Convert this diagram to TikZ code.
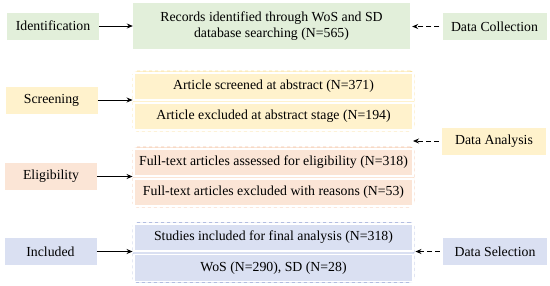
\documentclass[tikz,border=0pt]{standalone}
\usepackage{fontspec}
\setmainfont{Liberation Serif}
\usetikzlibrary{arrows.meta,positioning}
\definecolor{idgreen}{HTML}{E2EFDA}
\definecolor{scryellow}{HTML}{FFF2CC}
\definecolor{scrline}{HTML}{F9DF9C}
\definecolor{elorange}{HTML}{FBE5D6}
\definecolor{elline}{HTML}{F2C3A6}
\definecolor{inblue}{HTML}{DAE0F2}
\definecolor{inline}{HTML}{B2BDE0}

\begin{document}
\begin{tikzpicture}[x=1pt,y=-1pt,
  every node/.style={font=\fontsize{13.8}{16}\selectfont,align=center,inner sep=0pt},
  stage/.style={minimum width=92,minimum height=27},
  inbox/.style={minimum width=279,minimum height=27,draw=white,line width=1.5pt},
  group/.style={minimum width=281,minimum height=60,rounded corners=4pt,dashed,line width=.9pt},
  tag/.style={minimum width=104,minimum height=27},
  flow/.style={-{Stealth[length=6pt,width=5pt]},thick},
  back/.style={-{Stealth[length=6pt,width=5pt]},thick,dash pattern=on 5pt off 3pt}]
\useasboundingbox (0,0) rectangle (550,285);
% identification
\node[stage,fill=idgreen] (ident) at (53,26) {Identification};
\node[fill=idgreen,minimum width=277,minimum height=46] (records) at (271.5,26)
  {Records identified through WoS and SD\\database searching (N=565)};
\node[tag,fill=idgreen] (collect) at (494.5,26.5) {Data Collection};
% screening
\node[stage,fill=scryellow] (screen) at (51.5,100) {Screening};
\node[group,fill=scryellow,draw=scrline] (scrgroup) at (273.5,101) {};
\node[inbox,fill=scryellow] (scrA) at (273.5,86.5) {Article screened at abstract (N=371)};
\node[inbox,fill=scryellow] (scrB) at (273.5,116.5) {Article excluded at abstract stage (N=194)};
\node[tag,fill=scryellow] (analysis) at (494,141.5) {Data Analysis};
% eligibility
\node[stage,fill=elorange] (elig) at (51,176.5) {Eligibility};
\node[group,fill=elorange,draw=elline] (elgroup) at (273.5,177) {};
\node[inbox,fill=elorange] (elA) at (273.5,162.5) {Full-text articles assessed for eligibility (N=318)};
\node[inbox,fill=elorange] (elB) at (273.5,192.5) {Full-text articles excluded with reasons (N=53)};
% included
\node[stage,fill=inblue] (incl) at (50.5,251.5) {Included};
\node[group,fill=inblue,draw=inline] (ingroup) at (273.5,252.5) {};
\node[inbox,fill=inblue] (inA) at (273.5,237.5) {Studies included for final analysis (N=318)};
\node[inbox,fill=inblue] (inB) at (273.5,268) {WoS (N=290), SD (N=28)};
\node[tag,fill=inblue] (select) at (495,251.5) {Data Selection};
\coordinate (gap) at (413,141);

\draw[flow] (ident) -- (records);
\draw[flow] (screen) -- (screen-|scrgroup.west);
\draw[flow] (elig) -- (elig-|elgroup.west);
\draw[flow] (incl) -- (incl-|ingroup.west);
\draw[back] (collect.west) ++(-3,0) -- ([xshift=2pt]records.east|-collect);
\draw[back] (analysis.west|-gap) ++(-3,0) -- (gap);
\draw[back] (select.west) ++(-3,0) -- ([xshift=1pt]select-|ingroup.east);
\end{tikzpicture}
\end{document}
